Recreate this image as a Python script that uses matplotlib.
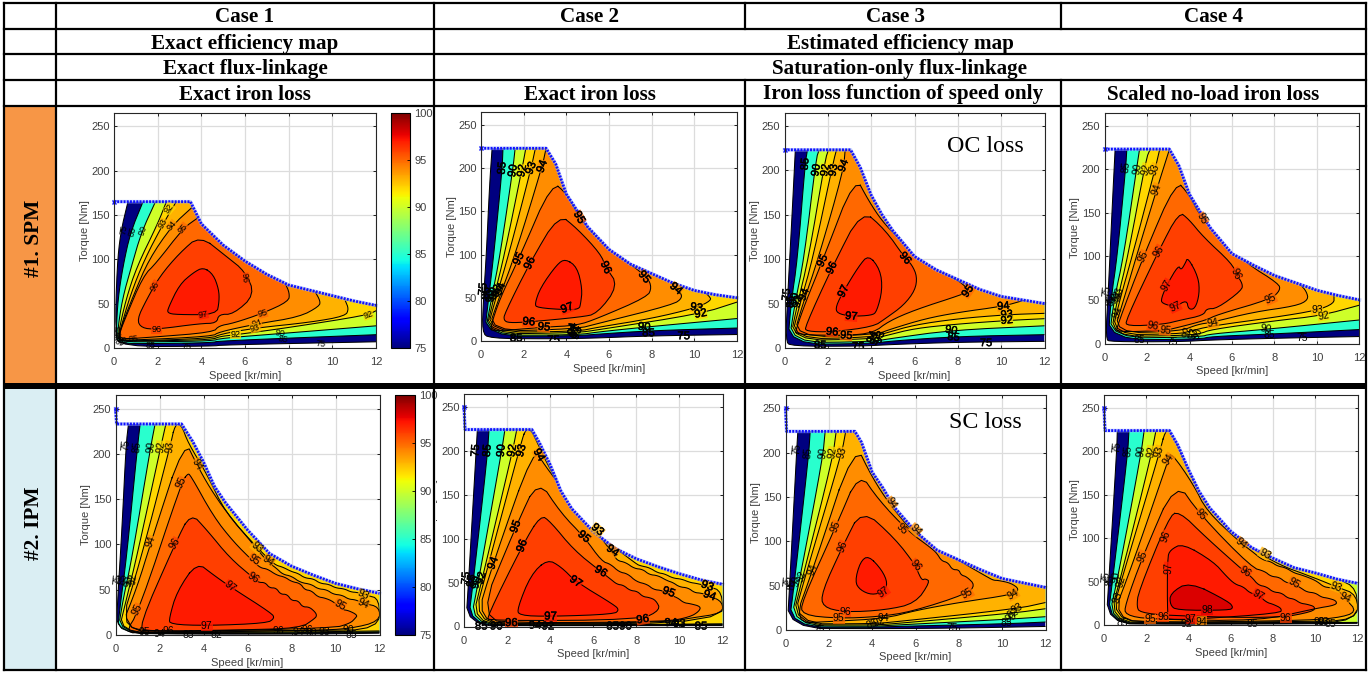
import matplotlib
matplotlib.use("Agg")
import matplotlib.pyplot as plt
import matplotlib.cm as cm
import matplotlib.patheffects as pe
from matplotlib.colors import Normalize
from matplotlib.patches import Polygon, Rectangle

W, H = 1372, 673
plt.rcParams['font.family'] = ['Liberation Sans', 'DejaVu Sans']

X_TICKS = [0, 2, 4, 6, 8, 10, 12]
Y_TICKS = [0, 50, 100, 150, 200, 250]
CBAR_TICKS = [75, 80, 85, 90, 95, 100]
LEVELS = [75, 85, 90, 92, 93, 94, 95, 96, 97, 98]

CASES = ["Case 1", "Case 2", "Case 3", "Case 4"]
IRON = ["Exact iron loss", "Exact iron loss", "Iron loss function of speed only", "Scaled no-load iron loss"]
ROWS = ["#1. SPM", "#2. IPM"]

# iso-efficiency lines, (speed kr/min, torque Nm)
# ---- #1 SPM, case 1
P1_SPEED = [0, 3.5, 4, 5, 6, 7, 8, 9, 10, 11, 12]
P1_TORQUE = [165, 165, 140, 116, 98, 83, 71, 65, 59, 53, 48]
P1_ETA = {
    75: [(0.64, 165), (0.3, 130), (0.14, 92), (0.05, 17), (0.3, 1.5), (4.5, 2), (5, 3.5), (12, 7)],
    85: [(1.33, 165), (0.75, 130), (0.41, 92), (0.18, 55), (0.1, 17), (0.15, 5), (2, 5), (4.5, 6), (4.8, 8), (12, 15)],
    90: [(1.9, 165), (1.25, 130), (0.8, 92), (0.38, 55), (0.15, 17), (0.22, 7), (2, 7), (4.5, 8), (4.9, 11), (8, 17), (12, 25)],
    92: [(2.4, 165), (2.0, 140), (1.05, 92), (0.55, 55), (0.2, 17), (0.25, 8), (2, 8), (4.5, 9.5), (4.85, 13), (5.6, 15), (8, 23), (11.6, 37), (12, 42)],
    93: [(2.85, 165), (2.25, 140), (1.4, 100), (0.75, 60), (0.28, 20), (0.2, 9), (0.5, 7.5), (4.5, 11), (4.85, 15.5), (6.46, 22.5), (9, 29), (10.6, 36), (10.75, 44), (10.6, 53)],
    94: [(3.55, 158), (2.66, 138), (1.6, 100), (0.9, 60), (0.3, 22), (0.22, 10), (0.5, 8.5), (4.5, 13), (4.8, 18), (6.5, 27), (8.5, 35), (9.4, 47), (9.45, 53), (9.2, 64)],
    95: [(3.85, 147), (3.17, 135), (1.94, 96), (1.33, 81), (0.49, 32), (0.23, 15), (0.34, 10), (1.64, 12), (4.55, 17.7), (4.8, 25), (5.47, 28), (6.8, 39), (8, 52.6), (8.04, 62), (7.84, 73)],
    96: [(3.93, 127), (5.16, 103), (6, 86.5), (6.46, 60), (5.47, 38), (4.8, 38), (4.7, 28), (3.93, 27.5), (1.94, 21), (1.26, 22.5), (1.05, 32), (1.49, 54.5), (2.1, 81), (3, 107), (3.93, 127)],
    97: [(4.09, 91), (4.55, 83), (4.8, 66), (4.82, 52.6), (4.7, 37.6), (2.86, 37.6), (2.45, 39.5), (2.48, 45), (3, 71.5), (3.63, 85), (4.09, 91)],
}
P1_LABELS = [(1.9, 70, "96", 60), (5.97, 79, "96", -85), (4.09, 38, "97", 10), (1.94, 21, "96", 0),
             (6.8, 39, "95", 15), (6.54, 27.4, "94", 15), (6.46, 22.5, "93", 15), (5.57, 15, "92", 0),
             (7.58, 16, "90", -10), (7.76, 10, "85", -10), (9.45, 5, "75", -5), (11.64, 37.6, "92", 20),
             (2.53, 157, "92", 50), (2.25, 140, "93", 60), (2.66, 138, "94", 50), (3.17, 135, "95", 50),
             (0.44, 134, "75", 80), (0.84, 131, "85", 75), (1.33, 133, "90", 70), (3.3, 2, "75", 0),
             (1.67, 3, "85", 0), (0.87, 10, "85", 5)]
P1_CLUSTER = [(0.2, 20, "75", 85), (0.24, 14, "85", 80), (0.3, 8, "90", 60), (0.45, 7, "92", 30)]

# ---- #1 SPM, case 2
P2_SPEED = [0, 3.05, 3.5, 4, 4.5, 5, 6, 7, 8, 9, 10, 11, 12]
P2_TORQUE = [223, 223, 205, 170, 151, 132, 106, 89, 78, 67, 58.5, 53.5, 50]
P2_ETA = {
    75: [(0.52, 223), (0.4, 180), (0.25, 100), (0.12, 50), (0.05, 10), (0.4, 3), (3, 2.5), (5, 3), (8, 6), (12, 7.5)],
    85: [(1.03, 223), (0.99, 198), (0.6, 100), (0.36, 50), (0.15, 5), (4.5, 6), (5.5, 8), (8, 12), (12, 15)],
    90: [(1.6, 223), (1.5, 200), (0.9, 100), (0.5, 50), (0.17, 6.5), (4.5, 7), (5.5, 10.5), (7.65, 16), (12, 26)],
    92: [(2.1, 223), (1.93, 200), (1.1, 100), (0.6, 50), (0.2, 8), (4.5, 9.5), (5.5, 13), (10.3, 31.5), (12, 45)],
    93: [(2.55, 223), (2.35, 200), (1.3, 100), (0.7, 50), (0.25, 10), (4.5, 11), (5.5, 16), (8, 26), (10.1, 38.5), (10.8, 47), (10.7, 52), (10.3, 60)],
    94: [(3.05, 223), (2.87, 202), (1.6, 100), (0.85, 50), (0.3, 11), (4.5, 14), (5.45, 20), (9, 42), (9.45, 50), (9.3, 58), (8.9, 68)],
    95: [(3.34, 184.5), (4.04, 170), (4.6, 143), (5.14, 128), (5.77, 112), (6.55, 97), (7.8, 74), (8, 62), (7.8, 51), (5.45, 26), (4.5, 18), (2.95, 16), (0.52, 11), (0.44, 16), (0.9, 50), (1.77, 95), (3.34, 184.5)],
    96: [(3.65, 147), (4.51, 130), (5.6, 101), (5.85, 85.5), (6.44, 64), (5.45, 31.5), (4.67, 27.7), (2.24, 22), (1.3, 21), (1.07, 24), (1.1, 31.5), (2.29, 90.5), (3.65, 147)],
    97: [(3.96, 95), (4.51, 85.5), (4.75, 60), (4.67, 43), (4.6, 37), (4.04, 36), (2.63, 38.5), (2.52, 43), (2.79, 62), (3.57, 89), (3.96, 95)],
}
P2_LABELS = [(0.99, 200, "85", 85), (1.5, 197, "90", 80), (1.93, 197, "92", 80), (2.35, 200, "93", 70), (2.87, 202, "94", 70),
             (1.77, 95, "95", 65), (2.29, 90, "96", 65), (4.6, 143, "95", -60), (5.85, 85, "96", -65),
             (7.65, 74, "95", -50), (9.14, 60.5, "94", -40), (10.1, 38.5, "93", -10), (10.3, 31.5, "92", 10),
             (4.04, 38, "97", 20), (2.24, 22, "96", -5), (2.95, 16, "95", -5), (7.65, 16, "90", -5),
             (7.85, 9, "85", 0), (9.5, 5.5, "75", 0), (3.4, 1, "75", 0), (1.65, 3, "85", 0)]
P2_CLUSTER = [(0.1, 60, "75", 85), (0.25, 55, "85", 85), (0.45, 52, "90", 85), (0.6, 55, "92", 80),
              (0.75, 58, "93", 75), (0.9, 60, "94", 70), (4.3, 14, "94", 80), (4.4, 11, "92", 80), (4.5, 9, "93", 70)]

# ---- #1 SPM, case 3
P3_SPEED = [0, 3.05, 3.5, 4, 4.5, 5, 6, 7, 8, 9, 10, 11, 12]
P3_TORQUE = [223, 223, 203, 172, 150, 132, 103, 88, 77, 66, 58, 54, 50]
P3_ETA = {
    75: [(0.5, 223), (0.35, 150), (0.15, 60), (0.05, 8), (0.3, 2), (3.5, 2), (5, 4), (8, 6.5), (12, 7.5)],
    85: [(1.06, 223), (0.95, 207), (0.6, 100), (0.3, 50), (0.15, 4), (4, 5), (5, 8), (8, 13), (12, 15)],
    90: [(1.6, 223), (1.46, 213), (0.9, 100), (0.48, 50), (0.2, 6), (4, 7), (5, 11), (7.7, 20), (12, 25)],
    92: [(2.03, 223), (1.88, 212), (1.1, 100), (0.6, 50), (0.25, 8.5), (4, 10), (4.7, 14), (6, 22), (8, 27), (10.3, 31), (12, 33)],
    93: [(2.4, 223), (2.26, 210), (1.3, 100), (0.72, 50), (0.3, 10), (4, 12), (4.7, 17), (6, 26), (8, 33), (10.26, 37.5), (12, 39)],
    94: [(2.8, 223), (2.72, 200), (1.55, 100), (0.85, 50), (0.4, 12), (4.2, 15), (5, 22), (6.5, 33), (8, 40), (10.1, 47), (11.1, 54)],
    95: [(3.26, 194), (3.9, 165), (4.5, 143), (5.2, 125), (6.5, 95), (8.2, 74), (8.46, 63.7), (8.18, 60), (6.03, 43), (4.8, 30), (4.1, 17), (2.85, 14), (0.49, 15), (0.55, 22), (0.95, 50), (1.75, 98), (3.26, 194)],
    96: [(3.57, 156), (4.65, 133), (5.57, 101), (5.88, 93.7), (6.12, 80.5), (6.03, 65), (5.5, 48), (4.65, 33), (4.1, 24), (2.2, 18), (1, 18.7), (0.95, 24), (2.18, 90), (3.57, 156)],
    97: [(3.88, 105), (4.42, 88), (4.52, 65.6), (4.26, 41), (4.03, 36.7), (3.08, 35.6), (2.42, 39), (2.37, 46.8), (2.72, 63.7), (3.42, 91.8), (3.88, 105)],
}
P3_LABELS = [(0.95, 207, "85", 85), (1.46, 200, "90", 80), (1.88, 200, "92", 80), (2.26, 200, "93", 80), (2.72, 205, "94", 70),
             (1.75, 98, "95", 65), (2.18, 90, "96", 65), (2.72, 63.7, "97", 65), (3.08, 35.6, "97", -5),
             (5.57, 101, "96", -50), (8.46, 63.7, "95", 55), (10.1, 47, "94", 5), (10.26, 37.5, "93", 5), (10.26, 31, "92", 5),
             (2.2, 18, "96", -5), (2.85, 14, "95", -5), (7.69, 20, "90", -10), (7.8, 12, "85", -5), (9.3, 5.5, "75", 0),
             (3.4, 1.5, "75", 0), (1.65, 3, "85", 0)]
P3_CLUSTER = [(0.1, 60, "75", 85), (0.28, 52, "85", 85), (0.45, 55, "90", 80), (0.6, 52, "92", 80), (0.9, 60, "94", 70),
              (4.05, 12, "94", 70), (4.2, 10, "92", 70), (4.4, 12, "93", 70)]

# ---- #1 SPM, case 4
P4_SPEED = [0, 3.05, 3.5, 4, 4.5, 5, 6, 7, 8, 9, 10, 11, 12]
P4_TORQUE = [223, 223, 204, 171, 151, 132, 103, 90, 78, 69.6, 61, 55, 50]
P4_ETA = {
    75: [(0.5, 223), (0.35, 150), (0.18, 60), (0.05, 5), (0.3, 2), (3.5, 2), (5, 4), (8, 6), (12, 8)],
    85: [(1.05, 223), (1.0, 202), (0.6, 100), (0.3, 50), (0.18, 4), (4.5, 5), (5, 8), (8, 11), (12, 16)],
    90: [(1.65, 223), (1.55, 207), (0.9, 100), (0.45, 50), (0.22, 6), (4.5, 7.5), (5, 11), (7.5, 16), (12, 27)],
    92: [(2.15, 223), (1.96, 212), (1.1, 100), (0.6, 50), (0.28, 8), (3.5, 9), (4.5, 11), (5, 16), (8, 26), (10.2, 32), (12, 44)],
    93: [(2.6, 223), (2.38, 200), (1.3, 100), (0.72, 50), (0.33, 10), (3.5, 11), (4, 14), (5, 20), (8, 30), (10, 38), (10.8, 46), (10.8, 54)],
    94: [(3.06, 223), (2.46, 177), (1.5, 100), (0.9, 50), (0.42, 12), (3.56, 14), (4.4, 22), (5, 24), (7, 36), (9, 43), (9.6, 50), (9.5, 60), (9.2, 68)],
    95: [(3.37, 187), (3.95, 172), (4.58, 143), (5.6, 118), (6.7, 91.6), (8.2, 68.7), (8.27, 61), (7.83, 51), (5.3, 33), (4.8, 27), (3.56, 19), (2.85, 15), (0.58, 13), (0.58, 19), (1.83, 100), (3.37, 187)],
    96: [(3.51, 151), (3.95, 143), (4.66, 122), (6, 91.6), (6.18, 80), (6.5, 68.7), (6.46, 61), (5.29, 40), (4.8, 40), (4.66, 32.4), (3.56, 26.7), (2.78, 22), (1.05, 19.8), (1, 26.7), (2.54, 106), (3.51, 151)],
    97: [(3.92, 99), (4.42, 76), (4.47, 57), (4.27, 40), (3.95, 39), (3.87, 50), (3.33, 42), (2.7, 46), (2.67, 51.5), (2.93, 67), (3.48, 90), (3.6, 84), (3.8, 92), (3.92, 99)],
}
P4_LABELS = [(1.0, 202, "85", 85), (1.55, 200, "90", 80), (1.96, 200, "92", 75), (2.38, 200, "93", 70), (2.46, 177, "94", 70),
             (1.83, 100, "95", 65), (2.54, 106, "96", 60), (2.93, 67, "97", 60), (3.33, 42, "97", 25),
             (4.58, 143, "95", -60), (6.18, 80, "96", -65), (7.83, 51, "95", 25), (10, 38, "93", 0), (10.3, 32, "92", 10),
             (5.1, 23, "94", 10), (2.28, 20, "96", -10), (2.85, 15, "95", -5), (7.6, 16, "90", -10), (7.75, 10, "85", 0),
             (9.3, 6, "75", 0), (3.2, 1.5, "75", 0), (1.65, 4, "85", 0)]
P4_CLUSTER = [(0.1, 60, "75", 85), (0.3, 50, "85", 85), (0.45, 52, "90", 80), (0.6, 55, "92", 80), (0.7, 58, "93", 75),
              (0.6, 35, "94", 70), (3.9, 13, "92", 80), (4.2, 12, "93", 70), (4.4, 12, "90", 70)]

# ---- #2 IPM, case 1
P5_SPEED = [0, 0.05, 3, 3.5, 4, 4.5, 5, 6, 7, 8, 9, 10, 11, 12]
P5_TORQUE = [250, 233, 233, 214, 191, 164, 146, 116, 90, 76, 66, 57, 51, 46]
P5_ETA = {
    75: [(0.59, 233), (0.48, 210), (0.3, 120), (0.1, 40), (0.03, 2), (3, 1), (9, 1), (12, 2)],
    85: [(1.12, 233), (1, 208), (0.5, 85), (0.2, 30), (0.08, 2), (3, 1.5), (9.5, 1.8), (12, 3)],
    90: [(1.8, 233), (1.6, 208), (0.75, 85), (0.35, 40), (0.1, 2.5), (3, 2), (9, 2.5), (12, 3.5)],
    92: [(2.29, 233), (2.06, 208), (1.0, 90), (0.5, 40), (0.13, 3), (3, 2.5), (9, 3.5), (12, 4.5)],
    93: [(2.71, 233), (2.48, 208), (1.12, 81), (0.14, 4), (3, 3), (9, 5), (12, 6), (12, 40), (11.4, 44), (11, 47), (10.7, 47.5), (10.4, 51), (10, 52), (9.7, 56), (9.3, 57), (9, 62), (8.6, 63), (8.3, 68), (8, 70), (7.6, 75), (7.3, 77), (7, 83), (6.42, 97), (5, 135), (4.15, 178), (3.3, 212), (3.0, 232), (2.71, 233)],
    94: [(3.14, 216), (1.62, 103), (0.97, 52), (0.2, 5.5), (3, 4), (9, 5), (10.67, 7), (12, 15), (12, 31), (11.27, 35), (10.9, 39), (10.6, 39.5), (10.3, 44), (9.9, 45), (9.6, 50), (9.2, 51), (8.9, 56), (8.4, 58), (8, 65), (7.6, 67), (7.3, 74), (6.95, 80), (6.5, 93), (5.06, 135), (4.3, 162), (3.7, 188), (3.14, 216)],
    95: [(3.27, 178), (3.0, 168), (1.05, 26), (0.44, 2), (1.35, 3), (9.9, 7.4), (10.67, 13), (10.9, 18.5), (11, 22), (10.6, 27), (10.3, 28), (9.9, 37), (9.5, 41), (9.2, 42), (8.9, 49), (8.6, 50), (8.4, 57), (8, 59), (7.7, 64), (7.33, 66), (6.9, 73), (6.6, 74), (6.27, 81), (5.36, 103), (4.45, 131), (3.4, 177), (3.27, 178)],
    96: [(3.42, 135), (2.71, 101), (1.05, 9), (1.42, 4), (5.4, 5.5), (8.4, 7.4), (9.08, 18.5), (9.15, 22), (9.05, 26), (8.8, 31), (8.5, 31), (8.3, 38), (8.0, 38), (7.8, 45), (7.5, 45), (7.3, 52), (7, 52), (6.8, 58), (6.5, 58), (6.27, 63), (5.2, 85), (4.15, 116), (3.42, 135)],
    97: [(3.7, 80.4), (2.79, 48), (2.44, 18.5), (2.48, 11.8), (4.15, 10.3), (6.88, 13), (7.23, 18.5), (7.1, 24), (5.2, 53.5), (4.45, 66.4), (3.7, 80.4)],
}
P5_LABELS = [(0.48, 210, "75", 85), (1, 208, "85", 85), (1.6, 208, "90", 85), (2.06, 208, "92", 85), (2.48, 208, "93", 85),
             (1.62, 103, "94", 70), (3.0, 168, "95", 65), (2.71, 101, "96", 60), (1.0, 28, "95", 65), (3.7, 188, "94", -60),
             (6.42, 97, "93", -40), (6.95, 82, "94", -35), (6.3, 83, "95", -35), (6.27, 62.7, "96", -35), (5.2, 53.5, "97", -40),
             (4.15, 10.3, "97", 0), (10.2, 33, "95", -30), (11.27, 44, "93", -25), (11.27, 35, "94", -25)]
P5_CLUSTER = [(0.1, 62, "75", 85), (0.35, 62, "85", 85), (0.6, 60, "90", 85), (0.8, 62, "92", 85), (1.3, 3, "95", 0), (2.0, 1.5, "94", 0),
              (2.4, 4, "96", 0), (3.3, 0, "83", 0), (4.6, 0, "82", 0), (7.4, 4, "96", 0), (8.3, 3, "94", 0), (8.7, 6, "96", 0),
              (8.9, 2, "90", 0), (9.5, 3, "93", 0), (10.6, 5, "90", 0), (10.7, 0, "85", 0)]

# ---- #2 IPM, case 2
P6_SPEED = [0, 0.05, 3.15, 3.5, 4, 4.5, 5, 6, 7, 8, 9, 10, 11, 12]
P6_TORQUE = [250, 224, 224, 209, 184, 154, 134, 108, 89, 77, 68, 60, 53, 48]
P6_ETA = {
    75: [(0.62, 224), (0.54, 190), (0.22, 55), (0.08, 1), (3, 0.7), (12, 1)],
    85: [(1.16, 224), (1.08, 193), (0.45, 55), (0.18, 2), (3, 1), (12, 1.8)],
    90: [(1.9, 224), (1.73, 197), (0.7, 55), (0.28, 3), (3, 1.3), (12, 2.5)],
    92: [(2.45, 224), (2.24, 198), (0.9, 60), (0.35, 4), (3, 1.5), (12, 3)],
    93: [(2.86, 224), (2.66, 210), (1.15, 72), (0.42, 5), (3, 2.5), (12, 4.5), (12, 40), (11.3, 46), (10.8, 49), (10.5, 50), (10.1, 54), (9.7, 55), (9.3, 60), (9, 61), (8.6, 67), (8.2, 69), (8, 71), (6.2, 105), (4.8, 145), (3.9, 183), (3.35, 212), (3.1, 224), (2.86, 224)],
    94: [(3.25, 204), (1.35, 72), (0.54, 5.7), (3, 3), (9.44, 5), (10.5, 9.5), (12, 15), (12, 28), (11.4, 35), (11, 38), (10.7, 38.5), (10.4, 44), (10, 45), (9.7, 50), (9.44, 52), (9, 58), (8.6, 59), (8.3, 65), (7.9, 66), (7.5, 73), (7.1, 75), (6.9, 84), (4.8, 150), (3.72, 184), (3.25, 204)],
    95: [(3.44, 168), (2.4, 113.6), (0.62, 7.6), (3, 4), (9.44, 5.5), (10.5, 11), (10.9, 17), (11, 22.7), (10.5, 26), (10.2, 27), (9.9, 33), (9.5, 36), (9.2, 41), (8.8, 42), (8.5, 48), (8, 51), (7.6, 60), (7.2, 62), (6.8, 71), (6.4, 74), (5.57, 102), (4.5, 129), (3.44, 168)],
    96: [(3.56, 127), (2.7, 91.7), (1.08, 11.4), (1.16, 6.4), (8.2, 7.6), (9.13, 19), (8.9, 30), (8.6, 33), (8.3, 34), (8.05, 40), (7.7, 41), (7.4, 47), (7.1, 48), (6.8, 54), (6.35, 62.5), (5.1, 87), (4.02, 119), (3.56, 127)],
    97: [(3.87, 76.5), (3.1, 58.7), (2.48, 20.8), (2.55, 12.5), (4.02, 11.4), (6.97, 14), (7.2, 19), (6.97, 24.6), (5.19, 51), (4.5, 68), (3.87, 76.5)],
}
P6_LABELS = [(0.54, 200, "75", 85), (1.08, 200, "85", 85), (1.73, 200, "90", 85), (2.24, 200, "92", 80), (2.66, 200, "93", 75),
             (3.48, 195, "94", -60), (1.35, 72, "94", 70), (2.4, 113.6, "95", 70), (2.7, 91.7, "96", 70), (5.19, 51, "97", -35),
             (6.35, 62.5, "96", -30), (5.57, 102, "95", -40), (6.9, 86, "94", -35), (6.2, 110, "93", -40), (9.5, 39, "95", -20),
             (11.3, 46, "93", -20), (11.4, 35, "94", -20), (4.02, 11.4, "97", 0), (8.3, 8, "96", 10), (2.2, 4, "96", 0)]
P6_CLUSTER = [(0.1, 55, "75", 85), (0.35, 52, "85", 85), (0.55, 50, "90", 85), (0.8, 55, "92", 75),
              (0.8, 0, "85", 0), (1.5, 0, "90", 0), (3.3, 1, "94", 0), (3.9, 0, "92", 0), (6.9, 0, "85", 0),
              (7.5, 0, "90", 0), (9.6, 4, "94", 0), (10, 3, "93", 0), (11, 0, "85", 0)]

# ---- #2 IPM, case 3
P7_SPEED = [0, 0.05, 3.2, 3.5, 4, 4.5, 5, 6, 7, 8, 9, 10, 11, 12]
P7_TORQUE = [250, 224, 224, 212, 178, 160, 139, 111, 90, 79, 68, 58, 53, 48]
P7_ETA = {
    75: [(0.57, 224), (0.52, 204), (0.2, 55), (0.08, 2), (4, 1.5), (7.7, 2), (12, 4)],
    85: [(1.14, 224), (1.06, 195), (0.42, 55), (0.15, 3.5), (4, 3), (5, 4), (10.2, 7), (12, 9)],
    90: [(1.83, 224), (1.71, 193), (0.68, 60), (0.2, 5), (4, 4), (5, 5.5), (10.2, 12), (12, 15)],
    92: [(2.34, 224), (2.17, 193), (0.85, 65), (0.25, 6), (4, 5.5), (5, 7), (10.5, 19), (12, 24)],
    93: [(2.78, 224), (2.6, 200), (1.0, 68), (0.3, 7), (4, 7), (5, 9), (10.7, 24), (12, 31)],
    94: [(3.2, 212), (1.26, 68), (0.37, 7.5), (2, 9.5), (4.6, 13), (6, 22), (8, 31), (10.5, 40), (10.8, 46), (10.4, 53), (9.8, 56), (9.6, 56), (9.3, 60), (8.8, 67), (6, 107), (4.86, 140), (4, 172), (3.2, 212)],
    95: [(3.4, 178.6), (2.32, 116.5), (0.75, 32), (0.75, 17), (2.45, 13), (4.3, 15), (5.83, 20.7), (8.4, 41), (8.75, 50.7), (8.37, 60), (8.1, 62), (8, 68), (7.7, 68), (7.5, 76), (7.2, 78), (7, 86), (6.75, 92), (5.68, 111), (4.3, 146.6), (3.4, 178.6)],
    96: [(3.52, 137), (2.63, 94), (1.68, 43), (1.7, 26), (2.75, 20), (4.6, 22.5), (6, 30), (6.68, 54.5), (6.45, 58), (6.3, 56), (6.1, 66), (6, 73), (5.06, 103), (3.52, 137)],
    97: [(3.83, 84), (4.45, 67.7), (4.72, 52.6), (4.52, 43), (3.98, 39.5), (3.45, 45), (3.2, 54.5), (3.45, 77), (3.83, 84)],
}
P7_LABELS = [(0.52, 204, "75", 85), (1.06, 200, "85", 85), (1.71, 200, "90", 85), (2.17, 200, "92", 80), (2.6, 200, "93", 75),
             (2.32, 116.5, "95", 70), (2.63, 94, "96", 70), (4.86, 143, "94", -55), (5.37, 114, "95", -45), (6, 113, "94", -45),
             (6, 73, "96", -50), (4.52, 43, "97", 35), (8.4, 41, "95", 30), (10.5, 40, "94", 30), (2.75, 20, "96", 0),
             (2.45, 13, "95", 0), (1.55, 0, "75", 0), (7.7, 2, "75", 0)]
P7_CLUSTER = [(0.1, 55, "75", 85), (0.3, 52, "85", 85), (0.5, 55, "90", 85), (0.75, 60, "92", 70), (1.26, 68, "94", 70),
              (4.5, 13, "94", 0), (4.3, 9, "92", 20), (4.0, 6, "85", 20), (10.7, 24, "93", 30), (10.5, 19, "92", 30), (10.4, 14, "90", 30), (10.2, 8, "85", 0)]

# ---- #2 IPM, case 4
P8_SPEED = [0, 0.05, 3.1, 3.5, 4, 4.5, 5, 6, 7, 8, 9, 10, 11, 12]
P8_TORQUE = [250, 224, 224, 207, 179, 154, 135, 108, 89, 77, 66, 60, 53, 48]
P8_ETA = {
    75: [(0.63, 224), (0.6, 200), (0.25, 60), (0.1, 1.5), (3, 1), (9, 1.2), (12, 2)],
    85: [(1.18, 224), (1.12, 197), (0.45, 60), (0.15, 2), (3, 1.3), (9, 2), (12, 2.6)],
    90: [(1.9, 224), (1.75, 197), (0.7, 60), (0.18, 3), (3, 1.6), (9, 2.5), (12, 3)],
    92: [(2.46, 224), (2.23, 195), (0.9, 65), (0.22, 4), (3, 2), (9, 3), (12, 3.5), (12, 42), (11, 54), (10.5, 70)],
    93: [(2.9, 224), (2.62, 198), (1.05, 70), (0.28, 6), (3, 2.5), (9, 4), (12, 5), (12, 35), (11, 44), (10, 54), (8, 72), (6.2, 103), (4.6, 148), (3.6, 200), (3.15, 224), (2.9, 224)],
    94: [(3.18, 199), (3.05, 191), (1.35, 70), (0.35, 6), (3, 3), (9, 5), (11, 7.7), (12, 15), (11.4, 31), (11.1, 40), (10.7, 43), (10.4, 44), (10.1, 50), (9.76, 54), (9.3, 58), (9, 60), (8.6, 66), (8.2, 68), (7.9, 73), (7.5, 75), (7, 85), (6.5, 94), (4.87, 131), (4.23, 162), (3.18, 199)],
    95: [(3.4, 167), (1.83, 79), (1, 23), (1, 11.5), (2.18, 6.5), (7.4, 4.6), (10, 19), (11, 23), (11, 28), (10.6, 31), (10.3, 32), (10, 37), (9.6, 38), (9.3, 43), (9, 47), (8.6, 49), (8.3, 55), (7.9, 56), (7.6, 62), (7, 66), (4.55, 127), (3.4, 167)],
    96: [(3.52, 132), (3.05, 123), (1.63, 38.5), (1.55, 21), (1.7, 14.6), (2.97, 10.8), (8.2, 7.7), (9.9, 15.4), (10, 21), (9.6, 24), (9.3, 25), (9, 30), (8.7, 31), (8.4, 37), (8, 38), (7.7, 44), (7.3, 46), (7, 55), (6.68, 60.8), (4.87, 100), (3.52, 132)],
    97: [(3.73, 94), (5.18, 73), (5.8, 56), (6.2, 47), (6.6, 44), (6.9, 37), (7.3, 34.6), (7.7, 26), (8, 24), (8.42, 19), (8.34, 13.5), (4.23, 6.5), (3.13, 6.5), (3, 7.7), (3, 77), (3.13, 86.5), (3.73, 94)],
    98: [(4.04, 50), (5.9, 27), (6.13, 20), (5.9, 17), (3.44, 17), (3.13, 23), (3.13, 36.5), (4.04, 50)],
}
P8_LABELS = [(0.6, 205, "75", 85), (1.12, 200, "85", 85), (1.75, 200, "90", 85), (2.23, 200, "92", 80), (2.62, 200, "93", 75),
             (3.05, 191, "94", 55), (1.83, 79, "95", 70), (2.94, 102, "96", 70), (3.08, 66, "97", 88), (4.55, 127, "95", -50),
             (6.5, 94, "94", -40), (7.6, 82, "93", -30), (6.68, 60.8, "96", -35), (7.3, 34.6, "97", -30), (9, 48, "95", -30),
             (4.87, 17, "98", 0), (4.6, 4, "94", 0), (2.18, 6.5, "95", 0), (2.8, 9.6, "96", 0), (4.1, 6.5, "97", 0),
             (11, 44, "93", -20), (11.4, 31, "94", -25), (8.6, 8, "96", 0)]
P8_CLUSTER = [(0.1, 55, "75", 85), (0.3, 52, "85", 85), (0.55, 55, "90", 85), (0.8, 50, "92", 75), (0.65, 32, "93", 70),
              (0.85, 2, "85", 0), (3.9, 1, "92", 0), (7, 1, "85", 0), (10.2, 3, "90", 0), (10.4, 4, "93", 0), (10.7, 1, "85", 0)]

# axes boxes in pixels: left, right, top, bottom; then label size, heavier labels
PANELS = [
    (P1_SPEED, P1_TORQUE, P1_ETA, P1_LABELS, P1_CLUSTER, (114, 376, 113, 348), 6.5, False),
    (P2_SPEED, P2_TORQUE, P2_ETA, P2_LABELS, P2_CLUSTER, (481, 737, 112, 341), 8.2, True),
    (P3_SPEED, P3_TORQUE, P3_ETA, P3_LABELS, P3_CLUSTER, (784.5, 1044.5, 112.5, 348), 8, True),
    (P4_SPEED, P4_TORQUE, P4_ETA, P4_LABELS, P4_CLUSTER, (1104.5, 1359.5, 112.5, 343.5), 7.5, False),
    (P5_SPEED, P5_TORQUE, P5_ETA, P5_LABELS, P5_CLUSTER, (115.5, 379.5, 395, 635), 7.5, False),
    (P6_SPEED, P6_TORQUE, P6_ETA, P6_LABELS, P6_CLUSTER, (464, 722.5, 393.5, 626.5), 8.2, True),
    (P7_SPEED, P7_TORQUE, P7_ETA, P7_LABELS, P7_CLUSTER, (785.5, 1045.5, 395, 630), 7.5, False),
    (P8_SPEED, P8_TORQUE, P8_ETA, P8_LABELS, P8_CLUSTER, (1104, 1357.5, 395, 625), 7.5, False),
]

norm = Normalize(75, 100)
jet = matplotlib.colormaps['jet']
TICK_GREY = "#404040"


def box_axes(fig, box, **kw):
    l, r, t, b = box
    return fig.add_axes([l / W, 1 - b / H, (r - l) / W, (b - t) / H], **kw)


def round_corners(pts, closed, passes=2):
    # corner cutting only, so the drawn line is not a hard polygon
    for _ in range(passes):
        out = []
        n = len(pts) - 1
        for i in range(n):
            (x0, y0), (x1, y1) = pts[i], pts[i + 1]
            out.append((0.75 * x0 + 0.25 * x1, 0.75 * y0 + 0.25 * y1))
            out.append((0.25 * x0 + 0.75 * x1, 0.25 * y0 + 0.75 * y1))
        if closed:
            out.append(out[0])
        else:
            out = [pts[0]] + out + [pts[-1]]
        pts = out
    return pts


def draw_map(ax, speed, torque, eta, labels, cluster, lab_size, heavy):
    ax.set_xlim(0, 12)
    ax.set_ylim(0, 265)
    ax.set_xticks(X_TICKS)
    ax.set_yticks(Y_TICKS)
    ax.grid(True, color="#dcdcdc", lw=0.9, zorder=0)
    ax.set_axisbelow(True)
    ax.tick_params(direction='in', top=True, right=True, length=2.5, width=0.6, labelsize=8,
                   labelcolor=TICK_GREY)
    ax.tick_params(axis='x', pad=6.5)
    ax.tick_params(axis='y', pad=3)
    for s in ax.spines.values():
        s.set_linewidth(0.8)
        s.set_color("#262626")
        s.set_zorder(8)
    ax.set_xlabel("Speed [kr/min]", fontsize=8, color=TICK_GREY, labelpad=2.5)
    ax.set_ylabel("Torque [Nm]", fontsize=8, color=TICK_GREY, labelpad=1)

    # everything stays under the torque limit line
    outline = [(0, 0)] + list(zip(speed, torque)) + [(12, 0)]
    clip = Polygon(outline, closed=True, transform=ax.transData, fc='none', ec='none')
    ax.add_patch(clip)

    for level in LEVELS:
        if level not in eta:
            continue
        pts = eta[level]
        closed = pts[0] == pts[-1]
        smooth = round_corners(pts, closed)
        xs = [p[0] for p in smooth]
        ys = [p[1] for p in smooth]
        if closed:
            fx, fy = xs, ys
        else:
            fx = xs + [xs[-1], xs[0]]
            fy = ys + [300, 300]
        patch = ax.fill(fx, fy, color=jet(norm(level)), lw=0, zorder=2)[0]
        patch.set_clip_path(clip)
        line = ax.plot(xs, ys, color='k', lw=0.75, zorder=3, solid_joinstyle='round')[0]
        line.set_clip_path(clip)

    # torque limit: light halo plus the dense blue crosses
    ax.plot(speed, torque, color="#9fb4ff", lw=2.6, alpha=0.6, zorder=4, clip_on=False)
    ax.plot(speed, torque, color="#1010ff", lw=2.0, ls=(0, (0.7, 0.45)), zorder=5, clip_on=False)
    ax.plot(speed[:1], torque[:1], color="#1010ff", marker='x', ms=3.5, mew=1, zorder=5, clip_on=False)

    effects = [pe.withStroke(linewidth=0.35, foreground='k')] if heavy else None
    for x, y, txt, rot in labels:
        level = int(txt)
        box = dict(fc=jet(norm(level)), ec='none', pad=0.1, alpha=0.75) if level > 90 else None
        ax.text(x, y, txt, fontsize=lab_size, rotation=rot, ha='center', va='center', color='k', zorder=6,
                rotation_mode='anchor', clip_on=True, bbox=box, path_effects=effects)
    for x, y, txt, rot in cluster:
        ax.text(x, y, txt, fontsize=lab_size, rotation=rot, ha='center', va='center', color='k', zorder=6,
                rotation_mode='anchor', path_effects=effects)


fig = plt.figure(figsize=(W / 100, H / 100), dpi=100)

# table goes on a full-figure layer in pixel coordinates
tab = fig.add_axes([0, 0, 1, 1], zorder=0)
tab.set_xlim(0, W)
tab.set_ylim(H, 0)
tab.axis('off')
tab.add_patch(Rectangle((4, 106), 52, 279, fc="#F79646", ec='none'))
tab.add_patch(Rectangle((4, 386), 52, 284, fc="#DAEEF3", ec='none'))

serif = ['Liberation Serif', 'DejaVu Serif']
head = dict(family=serif, fontsize=15.2, fontweight='bold', ha='center', va='center')
for x, t in zip([245, 589, 896, 1213], CASES):
    tab.text(x, 17.5, t, **head)
for x, t in zip([245, 589.5, 903, 1213], IRON):
    tab.text(x, 94.5, t, **head)
tab.text(245, 43.5, "Exact efficiency map", **head)
tab.text(245, 69, "Exact flux-linkage", **head)
tab.text(900, 43.5, "Estimated efficiency map", **head)
tab.text(900, 69, "Saturation-only flux-linkage", **head)
tab.text(34, 238, ROWS[0], family=serif, fontsize=15.4, fontweight='bold', rotation=90, ha='center', va='center')
tab.text(34, 523, ROWS[1], family=serif, fontsize=15.4, fontweight='bold', rotation=90, ha='center', va='center')

for p in PANELS:
    ax = box_axes(fig, p[5], zorder=2)
    draw_map(ax, p[0], p[1], p[2], p[3], p[4], p[6], p[7])
    # this map's y label is only a sliver beside the column line, drawn below
    if p[2] is P6_ETA:
        ax.set_ylabel("")

# colour bars of the two case 1 maps
for box in [(391, 410, 113, 348), (395, 415, 395, 635)]:
    cax = box_axes(fig, box, zorder=2)
    cb = fig.colorbar(cm.ScalarMappable(norm=norm, cmap='jet'), cax=cax, ticks=CBAR_TICKS)
    cb.ax.tick_params(direction='in', length=2.5, width=0.6, labelsize=8, labelcolor=TICK_GREY, pad=3)
    cb.outline.set_linewidth(0.8)

# y label of the IPM case 2 map is cut off by the column line
sliver = box_axes(fig, (435.5, 445, 480, 540), zorder=3)
sliver.axis('off')
sliver.text(-0.25, 0.5, "Torque [Nm]", transform=sliver.transAxes, fontsize=8, color=TICK_GREY, rotation=90,
            ha='center', va='center', clip_on=True)

# text printed over the case 3 maps
top = fig.add_axes([0, 0, 1, 1], zorder=5)
top.set_xlim(0, W)
top.set_ylim(H, 0)
top.axis('off')
top.patch.set_alpha(0)
top.text(985, 146, "OC loss", family=serif, fontsize=17.3, ha='center', va='center')
top.text(985, 423, "SC loss", family=serif, fontsize=17.3, ha='center', va='center')

# table rules
for y in [3, 28.5, 54, 80, 106, 670]:
    top.plot([4, 1366], [y, y], color='k', lw=1.6, solid_capstyle='projecting')
top.add_patch(Rectangle((3, 383), 1364, 5.5, fc='k', ec='none'))
for x in [4, 56, 434, 1366]:
    top.plot([x, x], [3, 670], color='k', lw=1.6, solid_capstyle='projecting')
for x in [745, 1061]:
    top.plot([x, x], [3, 28.5], color='k', lw=1.6)
    top.plot([x, x], [80, 670], color='k', lw=1.6)

fig.savefig("out.png", dpi=100)
